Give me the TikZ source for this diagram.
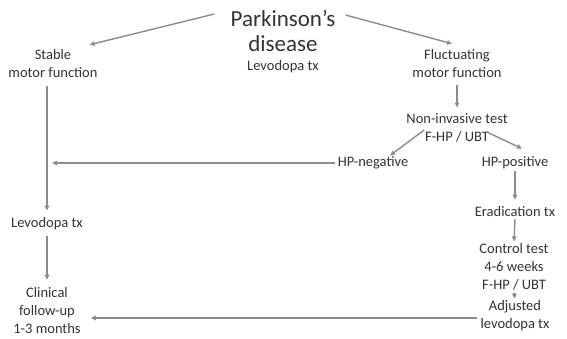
\documentclass[tikz,border=0pt]{standalone}
\usepackage{fontspec}
\setmainfont{Carlito}
\usetikzlibrary{arrows.meta}
\definecolor{txtc}{HTML}{333333}
\definecolor{arrc}{HTML}{8C8C8C}
\tikzset{
  lbl/.style={text=txtc, font=\fontsize{14.5}{18}\selectfont, align=center, inner sep=0pt},
  big/.style={text=txtc, font=\fontsize{23}{25}\selectfont, align=center, inner sep=0pt},
  con/.style={draw=arrc, line width=1.4pt, -{Triangle[length=5pt,width=4.5pt]}}
}
\begin{document}
\begin{tikzpicture}[x=1pt,y=-1pt]
\useasboundingbox (0,0) rectangle (567,339);
\node[big] (pd) at (283,31) {Parkinson’s\\disease};
\node[lbl] (pdl) at (283,67) {Levodopa tx};
\node[lbl] (stable) at (53,64) {Stable\\motor function};
\node[lbl] (fluct) at (457,64) {Fluctuating\\motor function};
\node[lbl] (nit) at (457,128) {Non-invasive test\\F-HP / UBT};
\node[lbl] (neg) at (373,163) {HP-negative};
\node[lbl] (pos) at (515,163) {HP-positive};
\node[lbl] (erad) at (515,212) {Eradication tx};
\node[lbl] (ctl) at (514,267) {Control test\\4-6 weeks\\F-HP / UBT};
\node[lbl] (adj) at (515,316) {Adjusted\\levodopa tx};
\node[lbl] (ldl) at (47,224) {Levodopa tx};
\node[lbl] (clin) at (47,311) {Clinical\\follow-up\\1-3 months};
\coordinate (mid) at (47,163);

\draw[con] ([shift={(-16,-17)}]pd.west) -- ([shift={(-8,-5)}]stable.north east);
\draw[con] ([shift={(10,-16)}]pd.east) -- ([shift={(-5,-6)}]fluct.north);
\draw[con, shorten <=7pt, shorten >=6pt] (fluct) -- (nit);
\draw[con] ([shift={(18,2)}]nit.west) -- ([shift={(17,-1)}]neg.north);
\draw[con] ([shift={(-21,4)}]nit.east) -- ([shift={(7,-8)}]pos.north);
\draw[con, shorten <=3pt, shorten >=5pt] (neg.west) -- (mid);
\draw[con, shorten <=8pt, shorten >=7pt] (stable.south -| ldl.north) -- (ldl.north);
\draw[con, shorten <=6pt, shorten >=8pt] (ldl.south) -- (clin.north);
\draw[con, shorten <=2pt, shorten >=7pt] (pos.south) -- (erad.north);
\draw[con, shorten <=2pt, shorten >=2pt] (erad.south) -- (ctl.north);
\draw[con, shorten <=2pt, shorten >=2pt] (ctl.south) -- (adj.north);
\draw[con, shorten <=3pt, shorten >=10pt] ([yshift=-2pt]adj.west) -- ([yshift=-2pt]adj.west -| clin.east);
\end{tikzpicture}
\end{document}
